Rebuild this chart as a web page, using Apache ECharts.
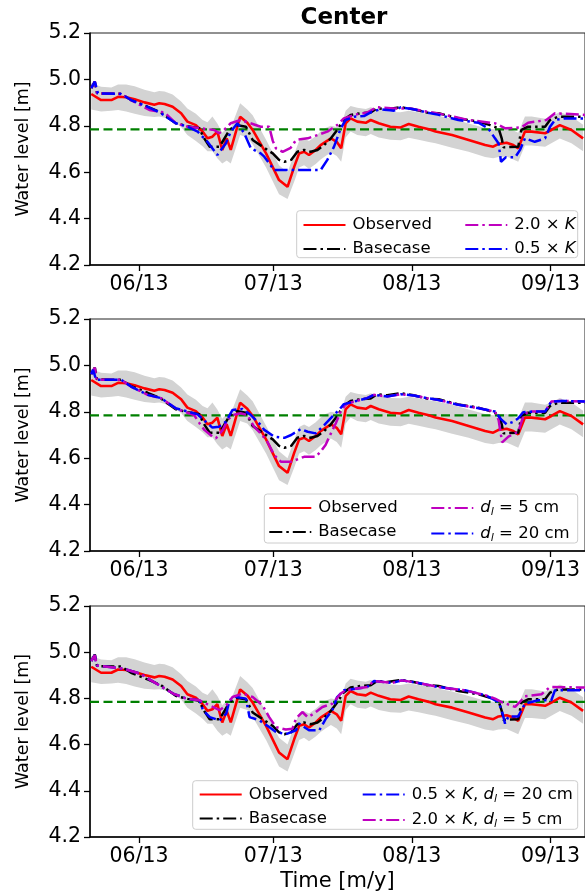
<!DOCTYPE html>
<html><head><meta charset="utf-8">
<script src="https://cdn.jsdelivr.net/npm/echarts@6/dist/echarts.min.js"></script>
<style>html,body{margin:0;padding:0;background:#fff}#c{width:585px;height:893px}</style>
</head><body><div id="c"></div>
<script>
// x values: days since 1 June 2013
const obsDays = [-10.7,-8.5,-6.2,-4.7,-2.9,-1.0,1.2,3.4,4.5,5.7,7.5,9.4,10.8,12.7,14.2,15.3,16.4,17.5,18.6,19.6,20.5,22.6,24.2,25.4,28.4,31.3,33.2,34.7,35.8,36.9,38.0,39.5,40.6,41.7,42.9,44.2,45.2,46.2,47.3,48.8,50.7,51.8,53.6,56.2,58.5,60.3,62.5,64.8,66.3,70.0,73.7,77.4,79.2,80.4,82.2,83.7,84.8,86.3,87.8,90.8,92.2,94.1,96.7,99.3];
const obsVals = [4.937,4.911,4.911,4.925,4.923,4.914,4.901,4.891,4.897,4.894,4.882,4.854,4.818,4.803,4.775,4.746,4.753,4.775,4.696,4.746,4.696,4.839,4.813,4.782,4.681,4.566,4.537,4.624,4.681,4.688,4.674,4.696,4.717,4.731,4.746,4.731,4.703,4.811,4.832,4.818,4.813,4.825,4.811,4.796,4.793,4.808,4.796,4.785,4.775,4.760,4.739,4.717,4.710,4.722,4.727,4.717,4.703,4.775,4.775,4.768,4.782,4.803,4.782,4.746];
const bandLow = [4.870,4.862,4.865,4.868,4.862,4.852,4.842,4.838,4.840,4.835,4.820,4.795,4.760,4.735,4.712,4.690,4.690,4.660,4.638,4.650,4.638,4.760,4.750,4.720,4.620,4.505,4.484,4.560,4.620,4.630,4.615,4.635,4.655,4.670,4.685,4.670,4.645,4.750,4.775,4.760,4.755,4.765,4.750,4.740,4.738,4.748,4.740,4.730,4.725,4.705,4.688,4.665,4.660,4.665,4.668,4.655,4.645,4.715,4.715,4.710,4.725,4.745,4.725,4.690];
const bandHigh = [4.985,4.968,4.965,4.978,4.978,4.970,4.955,4.945,4.950,4.948,4.935,4.905,4.875,4.852,4.825,4.815,4.840,4.810,4.770,4.790,4.790,4.897,4.870,4.845,4.740,4.630,4.600,4.680,4.735,4.745,4.735,4.755,4.775,4.790,4.800,4.795,4.800,4.865,4.885,4.878,4.872,4.880,4.870,4.860,4.858,4.865,4.858,4.850,4.845,4.830,4.810,4.790,4.785,4.790,4.790,4.780,4.770,4.840,4.840,4.830,4.840,4.860,4.840,4.805];

const basecase = [[-10.7,4.962],[-9.9,4.990],[-9.4,4.940],[-4.0,4.938],[-1.8,4.911],[1.9,4.882],[4.9,4.857],[8.2,4.811],[10.9,4.798],[13.5,4.790],[14.3,4.753],[15.8,4.710],[18.0,4.710],[20.2,4.782],[21.7,4.803],[23.9,4.796],[25.4,4.739],[27.6,4.710],[29.9,4.681],[31.3,4.653],[32.5,4.645],[34.0,4.653],[35.4,4.688],[36.9,4.696],[38.4,4.688],[39.9,4.696],[41.4,4.717],[42.9,4.746],[44.3,4.782],[45.7,4.825],[47.3,4.847],[49.5,4.854],[51.8,4.857],[53.2,4.875],[55.5,4.871],[58.5,4.880],[61.4,4.871],[64.4,4.857],[67.0,4.854],[71.4,4.832],[75.9,4.818],[78.5,4.803],[80.4,4.789],[81.1,4.746],[81.5,4.707],[84.8,4.710],[85.5,4.782],[87.0,4.796],[90.8,4.796],[91.9,4.825],[93.7,4.839],[99.7,4.839]];
const k2 = [[-10.7,4.962],[-9.9,4.990],[-9.4,4.940],[-4.0,4.938],[-1.8,4.911],[2.3,4.868],[5.7,4.857],[8.2,4.811],[10.9,4.796],[16.8,4.782],[17.9,4.768],[19.0,4.782],[20.5,4.811],[22.7,4.825],[24.9,4.811],[27.2,4.796],[29.1,4.796],[29.9,4.735],[30.6,4.703],[32.1,4.688],[33.9,4.705],[35.1,4.739],[37.7,4.746],[39.9,4.760],[42.1,4.775],[44.3,4.803],[45.8,4.832],[48.1,4.847],[51.0,4.857],[53.2,4.880],[57.0,4.875],[60.7,4.875],[64.4,4.861],[68.5,4.847],[73.7,4.825],[79.6,4.811],[81.9,4.789],[85.5,4.793],[87.0,4.813],[91.1,4.825],[93.0,4.854],[99.7,4.847]];
const k05 = [[-10.7,4.962],[-9.9,4.990],[-9.2,4.940],[-4.0,4.937],[-1.8,4.911],[1.9,4.882],[4.9,4.854],[8.2,4.811],[10.9,4.796],[13.1,4.775],[15.3,4.731],[17.5,4.674],[19.4,4.724],[20.5,4.775],[22.0,4.811],[23.5,4.768],[25.0,4.703],[27.2,4.681],[28.0,4.667],[30.2,4.609],[40.6,4.609],[42.1,4.653],[43.6,4.710],[45.1,4.789],[46.2,4.825],[48.1,4.839],[50.3,4.842],[52.1,4.861],[54.0,4.871],[57.0,4.865],[58.5,4.880],[61.4,4.871],[64.4,4.857],[67.0,4.847],[71.4,4.825],[75.9,4.813],[78.1,4.789],[79.6,4.746],[80.4,4.724],[80.95,4.645],[82.0,4.664],[84.1,4.664],[85.2,4.696],[86.3,4.746],[88.5,4.731],[90.8,4.746],[91.9,4.796],[93.0,4.825],[95.2,4.832],[99.7,4.832]];
const d5 = [[-10.7,4.962],[-9.9,4.990],[-9.5,4.938],[-4.0,4.938],[-1.8,4.909],[1.9,4.873],[4.9,4.859],[8.2,4.815],[10.1,4.801],[12.3,4.786],[13.5,4.751],[14.6,4.722],[16.4,4.693],[17.2,4.686],[18.7,4.722],[19.8,4.765],[20.9,4.786],[22.7,4.794],[24.2,4.786],[25.7,4.736],[27.2,4.707],[28.7,4.671],[30.2,4.614],[31.7,4.585],[34.0,4.585],[36.9,4.606],[39.5,4.606],[40.6,4.628],[41.7,4.657],[42.9,4.707],[44.0,4.751],[45.1,4.801],[46.2,4.833],[48.1,4.844],[51.0,4.859],[52.5,4.873],[55.5,4.866],[58.5,4.876],[61.4,4.870],[64.4,4.859],[67.0,4.851],[71.4,4.830],[75.2,4.818],[79.6,4.801],[80.4,4.765],[81.2,4.668],[82.6,4.693],[84.8,4.714],[85.9,4.779],[87.0,4.801],[90.8,4.801],[92.2,4.844],[94.5,4.847],[99.7,4.844]];
const d20 = [[-10.7,4.962],[-10.3,4.981],[-9.6,4.938],[-4.0,4.938],[-1.8,4.909],[1.9,4.873],[4.9,4.859],[8.2,4.815],[10.9,4.801],[13.1,4.789],[14.9,4.757],[16.4,4.732],[17.9,4.736],[19.4,4.757],[20.9,4.808],[23.1,4.812],[25.0,4.786],[27.2,4.743],[28.0,4.722],[30.2,4.693],[32.5,4.688],[34.0,4.700],[36.2,4.726],[37.7,4.714],[39.5,4.707],[41.4,4.743],[43.2,4.779],[44.7,4.808],[45.8,4.833],[48.1,4.844],[51.0,4.859],[52.5,4.873],[55.5,4.866],[58.5,4.876],[61.4,4.870],[64.4,4.859],[67.0,4.851],[71.4,4.830],[75.2,4.818],[79.6,4.801],[81.1,4.765],[82.2,4.746],[83.7,4.757],[84.8,4.772],[85.9,4.798],[88.2,4.801],[90.8,4.801],[92.2,4.844],[94.5,4.847],[99.7,4.844]];
const k05d20 = [[-10.7,4.962],[-9.9,4.987],[-9.5,4.943],[-3.6,4.929],[0.2,4.907],[3.9,4.864],[7.6,4.821],[10.6,4.799],[13.5,4.792],[14.3,4.749],[15.8,4.719],[18.0,4.705],[19.5,4.734],[20.2,4.792],[21.7,4.806],[23.9,4.799],[24.7,4.719],[26.9,4.705],[29.1,4.676],[30.6,4.655],[32.8,4.645],[35.1,4.662],[35.8,4.691],[38.0,4.662],[40.3,4.662],[41.8,4.713],[43.2,4.749],[44.3,4.806],[45.8,4.835],[48.4,4.842],[51.0,4.849],[52.5,4.875],[56.6,4.867],[58.8,4.878],[62.5,4.867],[67.0,4.849],[72.9,4.835],[77.4,4.814],[80.4,4.784],[81.1,4.749],[81.85,4.691],[82.6,4.722],[84.8,4.722],[86.3,4.777],[89.3,4.792],[92.2,4.792],[93.0,4.835],[99.7,4.835]];
const k2d5 = [[-10.7,4.962],[-9.9,4.987],[-9.5,4.943],[-3.6,4.929],[0.2,4.907],[3.9,4.864],[7.6,4.821],[10.6,4.799],[13.5,4.792],[16.5,4.763],[18.0,4.749],[19.5,4.770],[20.9,4.806],[23.2,4.821],[25.4,4.806],[27.6,4.770],[29.1,4.719],[30.6,4.676],[32.8,4.665],[34.3,4.669],[35.1,4.713],[36.5,4.741],[37.7,4.719],[39.1,4.734],[41.0,4.763],[43.2,4.777],[45.1,4.821],[46.2,4.835],[48.4,4.842],[51.0,4.849],[52.5,4.875],[56.6,4.867],[58.8,4.878],[62.5,4.867],[67.0,4.849],[72.9,4.835],[77.4,4.814],[79.6,4.799],[81.1,4.784],[84.1,4.763],[85.5,4.792],[86.3,4.809],[90.0,4.818],[91.9,4.849],[99.7,4.847]];

const threshold = 4.785;
const tickDays = [0, 30, 61, 92];
const tickLabels = ['06/13', '07/13', '08/13', '09/13'];
const xMin = -10.98, xMax = 99.73;
const yMin = 4.2, yMax = 5.2, yStep = 0.2;

const FONT = 'DejaVu Sans';
const RED = '#ff0000', BLACK = '#000000', MAG = '#bf00bf', BLUE = '#0000ff', GREEN = '#008000';
const DASHDOT = [13, 4, 2.5, 4];

const panels = [
  {top: 33, height: 232, lines: [['k2', k2, MAG], ['k05', k05, BLUE]],
   legend: {box: [296.7, 210.7, 281, 47], c1: 302.5, c2: 464.3, top: 216.5, col2: ['k2', 'k05']}},
  {top: 319, height: 232, lines: [['d5', d5, MAG], ['d20', d20, BLUE]],
   legend: {box: [264.3, 494, 313.4, 49], c1: 268.3, c2: 430.3, top: 499.5, col2: ['d5', 'd20']}},
  {top: 606, height: 231, lines: [['k05d20', k05d20, BLUE], ['k2d5', k2d5, MAG]],
   legend: {box: [192.7, 780.7, 385, 48.6], c1: 198.7, c2: 361.7, top: 786, col2: ['k05d20', 'k2d5']}}
];

const legendText = {
  Observed: 'Observed', Basecase: 'Basecase',
  k2: '2.0 × {i|K}', k05: '0.5 × {i|K}',
  d5: '{i|d}{s|l} = 5 cm', d20: '{i|d}{s|l} = 20 cm',
  k05d20: '0.5 × {i|K}, {i|d}{s|l} = 20 cm', k2d5: '2.0 × {i|K}, {i|d}{s|l} = 5 cm'
};

// band polygon drawn through the axis scale
function bandRender(params, api) {
  if (params.dataIndex !== 0) return;
  const pts = [];
  for (let i = 0; i < obsDays.length; i++) pts.push(api.coord([obsDays[i], bandHigh[i]]));
  for (let i = obsDays.length - 1; i >= 0; i--) pts.push(api.coord([obsDays[i], bandLow[i]]));
  return {type: 'polygon', shape: {points: pts}, style: {fill: '#d3d3d3', stroke: null}};
}

const grid = [], xAxis = [], yAxis = [], series = [], legend = [], graphic = [];
panels.forEach((p, gi) => {
  grid.push({left: 90, width: 497, top: p.top, height: p.height, show: true, borderColor: '#222', borderWidth: 1, backgroundColor: 'transparent'});
  xAxis.push({
    type: 'value', gridIndex: gi, min: xMin, max: xMax,
    name: gi === 2 ? 'Time [m/y]' : '', nameLocation: 'middle', nameGap: 34,
    nameTextStyle: {fontFamily: FONT, fontSize: 21, color: '#000'},
    axisLine: {show: true, onZero: false, lineStyle: {color: '#000', width: 1.5}},
    axisTick: {show: true, customValues: tickDays, length: 6, lineStyle: {color: '#000', width: 1.3}},
    axisLabel: {customValues: tickDays, formatter: v => tickLabels[tickDays.indexOf(v)] || '', fontFamily: FONT, fontSize: 20.5, color: '#000', margin: 9},
    splitLine: {show: false}
  });
  yAxis.push({
    type: 'value', gridIndex: gi, min: yMin, max: yMax, interval: yStep,
    name: 'Water level [m]', nameLocation: 'middle', nameGap: 58,
    nameTextStyle: {fontFamily: FONT, fontSize: 17.5, color: '#000'},
    axisLine: {show: true, onZero: false, lineStyle: {color: '#000', width: 1.5}},
    axisTick: {show: true, length: 6, lineStyle: {color: '#000', width: 1.3}},
    axisLabel: {formatter: v => v.toFixed(1), fontFamily: FONT, fontSize: 20.5, color: '#000', margin: 9},
    splitLine: {show: false}
  });
  const common = {type: 'line', xAxisIndex: gi, yAxisIndex: gi, symbol: 'none', showSymbol: false, animation: false};
  series.push({
    type: 'custom', name: 'band' + gi, xAxisIndex: gi, yAxisIndex: gi, silent: true, z: 1,
    data: obsDays.map((d, i) => [d, obsVals[i]]), renderItem: bandRender, animation: false, clip: true
  });
  series.push(Object.assign({}, common, {
    name: 'thr' + gi, z: 2, data: [[xMin, threshold], [xMax, threshold]],
    lineStyle: {color: GREEN, width: 2.2, type: [9, 4.5]}
  }));
  series.push(Object.assign({}, common, {
    name: 'Observed', z: 3, data: obsDays.map((d, i) => [d, obsVals[i]]),
    lineStyle: {color: RED, width: 2.6}, itemStyle: {color: RED}
  }));
  series.push(Object.assign({}, common, {
    name: 'Basecase', z: 4, data: basecase,
    lineStyle: {color: BLACK, width: 2.5, type: DASHDOT}, itemStyle: {color: BLACK}
  }));
  p.lines.forEach(([nm, data, col]) => {
    series.push(Object.assign({}, common, {
      name: nm, z: 5, data: data,
      lineStyle: {color: col, width: 2.5, type: DASHDOT}, itemStyle: {color: col}
    }));
  });
  const L = p.legend;
  const legBase = {
    orient: 'vertical', top: L.top, itemWidth: 42, itemHeight: 14, itemGap: 7, z: 30,
    selectedMode: false, padding: 0, itemStyle: {opacity: 0},
    formatter: n => legendText[n],
    textStyle: {fontFamily: FONT, fontSize: 16.5, color: '#000', padding: [0, 0, 0, 2], lineHeight: 14,
      rich: {i: {fontFamily: FONT, fontSize: 16.5, fontStyle: 'italic', color: '#000'},
             s: {fontFamily: FONT, fontSize: 11, fontStyle: 'italic', color: '#000', padding: [9, 0, 0, 0]}}}
  };
  legend.push(Object.assign({}, legBase, {left: L.c1, data: ['Observed', 'Basecase']}));
  legend.push(Object.assign({}, legBase, {left: L.c2, data: L.col2}));
  graphic.push({type: 'rect', z: 20, shape: {x: L.box[0], y: L.box[1], width: L.box[2], height: L.box[3], r: 3},
    style: {fill: 'rgba(255,255,255,0.8)', stroke: '#cccccc', lineWidth: 1}});
});

const chart = echarts.init(document.getElementById('c'), null, {renderer: 'canvas'});
chart.setOption({
  animation: false,
  backgroundColor: '#fff',
  title: {text: 'Center', left: 339, top: 2, textAlign: 'center',
    textStyle: {fontFamily: FONT, fontSize: 23, fontWeight: 'bold', color: '#000'}},
  grid, xAxis, yAxis, series, legend, graphic
});
</script></body></html>
